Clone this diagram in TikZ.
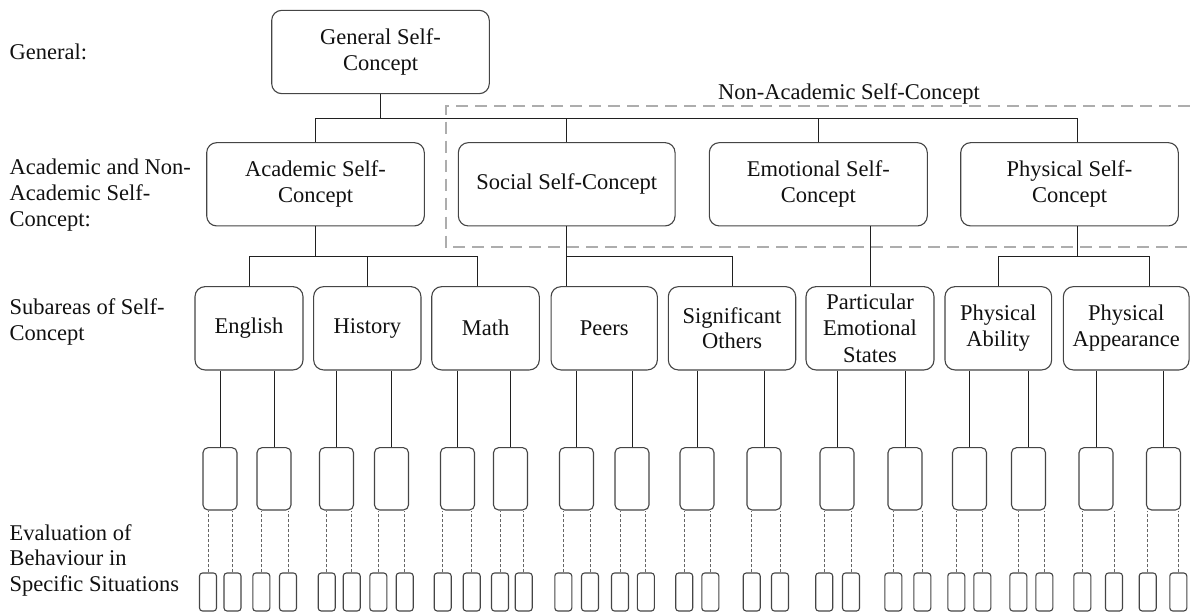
\documentclass[tikz,border=0pt]{standalone}
\usepackage{fontspec}
\setmainfont{Liberation Serif}
\newfontfamily\tnr{Liberation Serif}
\usetikzlibrary{calc}
\definecolor{boxc}{HTML}{454545}
\definecolor{linec}{HTML}{202020}
\definecolor{grpc}{HTML}{ADADAD}
\definecolor{dotc}{HTML}{666666}
\definecolor{txt}{HTML}{111111}
\begin{document}
\begin{tikzpicture}[x=1pt,y=-1pt,
  every node/.style={font=\tnr\fontsize{22.5}{25.7}\selectfont, text=txt},
  bigbox/.style={draw=boxc, line width=1.1pt, rounded corners=10pt, align=center, inner sep=0pt, minimum height=83.3pt, fill=white},
  midbox/.style={draw=boxc, line width=1.1pt, rounded corners=5pt, minimum width=34pt, minimum height=62.3pt, inner sep=0pt, fill=white},
  smallbox/.style={draw=boxc, line width=1.1pt, rounded corners=3pt, minimum width=17pt, minimum height=38pt, inner sep=0pt, fill=white},
  conn/.style={draw=linec, line width=1pt},
  dotconn/.style={draw=dotc, line width=0.8pt, dash pattern=on 3pt off 2pt},
  groupline/.style={draw=grpc, line width=1.8pt, dash pattern=on 12pt off 7pt},
  rowlabel/.style={anchor=base west, align=left, inner sep=0pt}
]
\useasboundingbox (0,0) rectangle (1190,612);

% group frame (non-academic)
\coordinate (gtr) at (1190,106);
\coordinate (gtl) at (445.7,106);
\coordinate (gbl) at (445.7,247);
\coordinate (gbr) at (1190,247);
\draw[groupline] (gtr) -- (gtl) -- (gbl) -- (gbr);
\node[anchor=base, inner sep=0pt] (nalab) at (849,99.3) {Non-Academic Self-Concept};

% row labels (base = last line)
\node[rowlabel] (l1) at (9.5,60) {General:};
\node[rowlabel] (l2) at (9.5,226.3) {Academic and Non-\\Academic Self-\\Concept:};
\node[rowlabel] (l3) at (9.5,340.5) {Subareas of Self-\\Concept};
\node[rowlabel] (l4) at (9.5,591.5) {Evaluation of\\Behaviour in\\Specific Situations};

% level 1 and 2
\node[bigbox, minimum width=217.6pt] (gen) at (380.5,52) {General Self-\\Concept};
\node[bigbox, minimum width=217.6pt] (acad) at (315.5,184.3) {Academic Self-\\Concept};
\node[bigbox, minimum width=216.7pt] (soc) at (566.7,184.3) {Social Self-Concept};
\node[bigbox, minimum width=218pt] (emo) at (818.3,184.3) {Emotional Self-\\Concept};
\node[bigbox, minimum width=217.6pt] (phys) at (1069.5,184.3) {Physical Self-\\Concept};

% level 3
\node[bigbox, minimum width=108pt] (eng) at (249,328.3) {English};
\node[bigbox, minimum width=107.3pt] (hist) at (367.3,328.3) {History};
\node[bigbox, minimum width=107.6pt] (math) at (485.5,328.3) {Math};
\node[bigbox, minimum width=106.3pt] (peers) at (604.2,328.3) {Peers};
\node[bigbox, minimum width=127.4pt] (sig) at (732,328.3) {Significant\\Others};
\node[bigbox, minimum width=128pt, font=\tnr\fontsize{22.5}{26.5}\selectfont] (part) at (870,328.3) {Particular\\Emotional\\States};
\node[bigbox, minimum width=106.7pt] (abil) at (998.3,328.3) {Physical\\Ability};
\node[bigbox, minimum width=125.7pt] (appear) at (1126.2,328.3) {Physical\\Appearance};

% level 1 -> 2
\coordinate (physin) at ($(phys.north)+(7.8,0)$);
\draw[conn] (gen.south) -- (gen.south |- 0,119);
\draw[conn] (acad.north) -- (acad.north |- 0,119) -| (physin);
\draw[conn] (soc.north) -- (soc.north |- 0,119);
\draw[conn] (emo.north) -- (emo.north |- 0,119);

% level 2 -> 3
\coordinate (mathin) at ($(math.north)+(-8.5,0)$);
\draw[conn] (acad.south) -- (acad.south |- 0,256);
\draw[conn] (eng.north) -- (eng.north |- 0,256) -| (mathin);
\draw[conn] (hist.north) -- (hist.north |- 0,256);

\draw[conn] (soc.south) -- (soc.south |- peers.north);
\draw[conn] (soc.south |- 0,256.7) -| (sig.north);

\draw[conn] (emo.south -| part.north) -- (part.north);

\coordinate (physout) at ($(phys.south)+(7.8,0)$);
\coordinate (appin) at ($(appear.north)+(23,0)$);
\draw[conn] (physout) -- (physout |- 0,256.7);
\draw[conn] (abil.north) -- (abil.north |- 0,256.7) -| (appin);

% level 3 -> medium boxes
\foreach \i/\x/\p in {1/220/eng, 2/274/eng, 3/336.5/hist, 4/391.5/hist, 5/457.5/math, 6/510.5/math, 7/576.5/peers, 8/632/peers, 9/697/sig, 10/764/sig, 11/837/part, 12/905/part, 13/969.5/abil, 14/1028.5/abil, 15/1096/appear, 16/1163.5/appear} {
  \node[midbox] (m\i) at (\x,478.8) {};
  \draw[conn] (m\i.north) -- (m\i.north |- \p.south);
}

% medium -> small boxes
\foreach \j/\x/\m in {1/208/1, 2/232.5/1, 3/261.3/2, 4/288/2, 5/326.7/3, 6/351.7/3, 7/378.3/4, 8/404.7/4, 9/442.7/5, 10/471.7/5, 11/500/6, 12/523.7/6, 13/563.3/7, 14/590/7, 15/620/8, 16/645.8/8, 17/684.2/9, 18/710.3/9, 19/751.7/10, 20/780/10, 21/824.2/11, 22/851/11, 23/893.3/12, 24/922.3/12, 25/956.3/13, 26/982.3/13, 27/1018.3/14, 28/1044.3/14, 29/1082.3/15, 30/1114/15, 31/1147.7/16, 32/1178.3/16} {
  \node[smallbox] (s\j) at (\x,592) {};
  \draw[dotconn] (s\j.north) -- (s\j.north |- m\m.south);
}
\end{tikzpicture}
\end{document}
